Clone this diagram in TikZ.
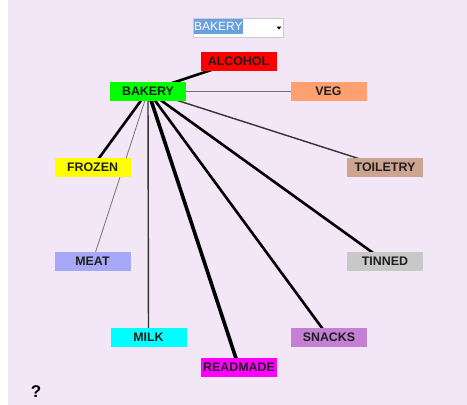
\documentclass[tikz,border=0pt]{standalone}
\usepackage{fontspec}
\setmainfont{Liberation Sans}
\pgfdeclarelayer{paper}
\pgfdeclarelayer{links}
\pgfsetlayers{paper,links,main}
\begin{document}
\begin{tikzpicture}[x=1pt,y=-1pt,
  cat/.style={minimum width=76pt,minimum height=19pt,inner sep=0pt,
    font=\fontsize{12.4}{14}\selectfont\bfseries,text=black!88},
  weak/.style={draw=black!55,line width=0.8pt},
  mid/.style={draw=black!80,line width=1.4pt},
  strong/.style={draw=black,line width=2.6pt},
  heavy/.style={draw=black,line width=3.6pt}]
\definecolor{bgc}{RGB}{243,230,246}
\definecolor{alcc}{RGB}{255,0,0}
\definecolor{bakc}{RGB}{0,255,0}
\definecolor{vegc}{RGB}{255,160,112}
\definecolor{frzc}{RGB}{255,255,0}
\definecolor{toic}{RGB}{204,164,144}
\definecolor{meatc}{RGB}{168,168,248}
\definecolor{tinc}{RGB}{200,200,200}
\definecolor{milkc}{RGB}{0,255,255}
\definecolor{snackc}{RGB}{196,128,210}
\definecolor{readc}{RGB}{255,0,255}
\definecolor{selc}{RGB}{105,160,222}
\useasboundingbox (0,0) rectangle (467,405);
\begin{pgfonlayer}{paper}
\fill[white] (0,0) rectangle (467,405);
\fill[bgc] (8,0) rectangle (467,405);
\end{pgfonlayer}

% category boxes
\node[cat,fill=alcc]   (alcohol)  at (238.5,61)   {ALCOHOL};
\node[cat,fill=bakc]   (bakery)   at (148,91)     {BAKERY};
\node[cat,fill=vegc]   (veg)      at (328.5,91)   {VEG};
\node[cat,fill=frzc]   (frozen)   at (92.5,167)   {FROZEN};
\node[cat,fill=toic]   (toiletry) at (385,167)    {TOILETRY};
\node[cat,fill=meatc]  (meat)     at (92.5,261.5) {MEAT};
\node[cat,fill=tinc]   (tinned)   at (385,261.5)  {TINNED};
\node[cat,fill=milkc]  (milk)     at (148.5,337.5){MILK};
\node[cat,fill=snackc] (snacks)   at (329,337.5)  {SNACKS};
\node[cat,fill=readc]  (readmade) at (239,367.5)  {READMADE};

% links from the selected category, under the boxes
\begin{pgfonlayer}{links}
\draw[strong] (bakery.center) -- (alcohol.center);
\draw[weak]   (bakery.center) -- (veg.center);
\draw[strong] (bakery.center) -- (frozen.center);
\draw[mid]    (bakery.center) -- (toiletry.center);
\draw[weak]   (bakery.center) -- (meat.center);
\draw[strong] (bakery.center) -- (tinned.center);
\draw[mid]    (bakery.center) -- (milk.center);
\draw[strong] (bakery.center) -- (snacks.center);
\draw[heavy]  (bakery.center) -- (readmade.center);
\end{pgfonlayer}

% selector
\node[draw=black!20,fill=white,minimum width=90pt,minimum height=19pt,inner sep=0pt] (sel) at (238,27.5) {};
\node[fill=selc,text=white,anchor=west,inner sep=0pt,minimum height=15pt,
  font=\fontsize{12}{13}\selectfont] (selv) at (194,26.5) {BAKERY};
\fill[black] (276.5,26.5) -- (281.5,26.5) -- (279,29.5) -- cycle;

% help mark
\node[font=\fontsize{17}{19}\selectfont\bfseries] (help) at (36,392) {?};
\end{tikzpicture}
\end{document}
